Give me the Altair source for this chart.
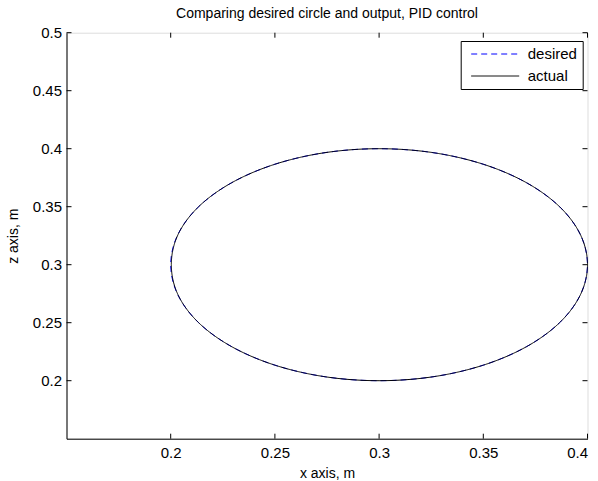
import altair as alt
import pandas as pd

# ---- data ----
series_names = ["desired", "actual"]

desired_x = [0.4000, 0.3966, 0.3866, 0.3707, 0.3500, 0.3259, 0.3000, 0.2741,
             0.2500, 0.2293, 0.2134, 0.2034, 0.2000, 0.2034, 0.2134, 0.2293,
             0.2500, 0.2741, 0.3000, 0.3259, 0.3500, 0.3707, 0.3866, 0.3966]
desired_z = [0.3000, 0.3259, 0.3500, 0.3707, 0.3866, 0.3966, 0.4000, 0.3966,
             0.3866, 0.3707, 0.3500, 0.3259, 0.3000, 0.2741, 0.2500, 0.2293,
             0.2134, 0.2034, 0.2000, 0.2034, 0.2134, 0.2293, 0.2500, 0.2741]

actual_x = [0.4000, 0.3966, 0.3866, 0.3707, 0.3500, 0.3259, 0.3000, 0.2741,
            0.2500, 0.2293, 0.2134, 0.2035, 0.2003, 0.2035, 0.2134, 0.2293,
            0.2500, 0.2741, 0.3000, 0.3259, 0.3500, 0.3707, 0.3866, 0.3966]
actual_z = [0.3000, 0.3259, 0.3500, 0.3707, 0.3866, 0.3966, 0.4000, 0.3966,
            0.3866, 0.3707, 0.3500, 0.3259, 0.3000, 0.2741, 0.2500, 0.2293,
            0.2134, 0.2034, 0.2000, 0.2034, 0.2134, 0.2293, 0.2500, 0.2741]

x_ticks = [0.2, 0.25, 0.3, 0.35, 0.4]
z_ticks = [0.2, 0.25, 0.3, 0.35, 0.4, 0.45, 0.5]

# ---- build tables ----
rows = []
for i, (x, z) in enumerate(zip(desired_x, desired_z)):
    rows.append({"series": "desired", "i": i, "x": x, "z": z})
for i, (x, z) in enumerate(zip(actual_x, actual_z)):
    rows.append({"series": "actual", "i": i, "x": x, "z": z})
df = pd.DataFrame(rows)

xt = pd.DataFrame({"x": x_ticks})
zt = pd.DataFrame({"z": z_ticks})

W, H = 521, 406
FONT = "Liberation Sans"
TICK = 5

xaxis = alt.Axis(values=x_ticks, format="~g", title="x axis, m", ticks=False,
                 grid=False, labelPadding=7, titlePadding=6,
                 domainColor="black", labelColor="black", titleColor="black",
                 labelFontSize=15, titleFontSize=14, titleFontWeight="normal",
                 labelFont=FONT, titleFont=FONT)
yaxis = alt.Axis(values=z_ticks, format="~g", title="z axis, m", ticks=False,
                 grid=False, labelPadding=5, titlePadding=12,
                 domainColor="black", labelColor="black", titleColor="black",
                 labelFontSize=15, titleFontSize=14, titleFontWeight="normal",
                 labelFont=FONT, titleFont=FONT)

xenc = alt.X("x:Q", scale=alt.Scale(domain=[0.15, 0.4], nice=False, zero=False), axis=xaxis)
yenc = alt.Y("z:Q", scale=alt.Scale(domain=[0.15, 0.5], nice=False, zero=False), axis=yaxis)

legend = alt.Legend(title=None, orient="none", legendX=394.2, legendY=8.3,
                    strokeColor="black", fillColor="white", padding=5,
                    symbolType="M-8,0H8", symbolSize=36, symbolStrokeWidth=1,
                    symbolOffset=22, labelOffset=25, clipHeight=16,
                    labelFont=FONT, labelFontSize=15, labelColor="black",
                    rowPadding=6, cornerRadius=0)

lines = alt.Chart(df).mark_line(interpolate="cardinal-closed", strokeWidth=1).encode(
    x=xenc, y=yenc,
    color=alt.Color("series:N", scale=alt.Scale(domain=series_names, range=["#0000FF", "#000000"]), legend=legend),
    strokeDash=alt.StrokeDash("series:N", scale=alt.Scale(domain=series_names, range=[[6, 4], [1, 0]]), legend=legend),
    order=alt.Order("i:Q"),
)

bx = alt.Chart(xt).mark_rule(color="black", strokeWidth=1).encode(x=xenc, y=alt.value(H), y2=alt.value(H - TICK))
tx = alt.Chart(xt).mark_rule(color="black", strokeWidth=1).encode(x=xenc, y=alt.value(0), y2=alt.value(TICK))
ly = alt.Chart(zt).mark_rule(color="black", strokeWidth=1).encode(y=yenc, x=alt.value(0), x2=alt.value(TICK))
ry = alt.Chart(zt).mark_rule(color="black", strokeWidth=1).encode(y=yenc, x=alt.value(W), x2=alt.value(W - TICK))

chart = alt.layer(lines, bx, tx, ly, ry).properties(
    width=W, height=H,
    title=alt.TitleParams("Comparing desired circle and output, PID control",
                          font=FONT, fontSize=14, fontWeight="normal", color="black",
                          anchor="middle", offset=5),
    autosize=alt.AutoSizeParams(type="none"),
    padding={"left": 66.5, "top": 32.7, "right": 10.5, "bottom": 42.3},
).configure_view(stroke="black", strokeWidth=1).configure(background="white")

chart.save("out.html", embed_options={"renderer": "svg", "actions": False})
